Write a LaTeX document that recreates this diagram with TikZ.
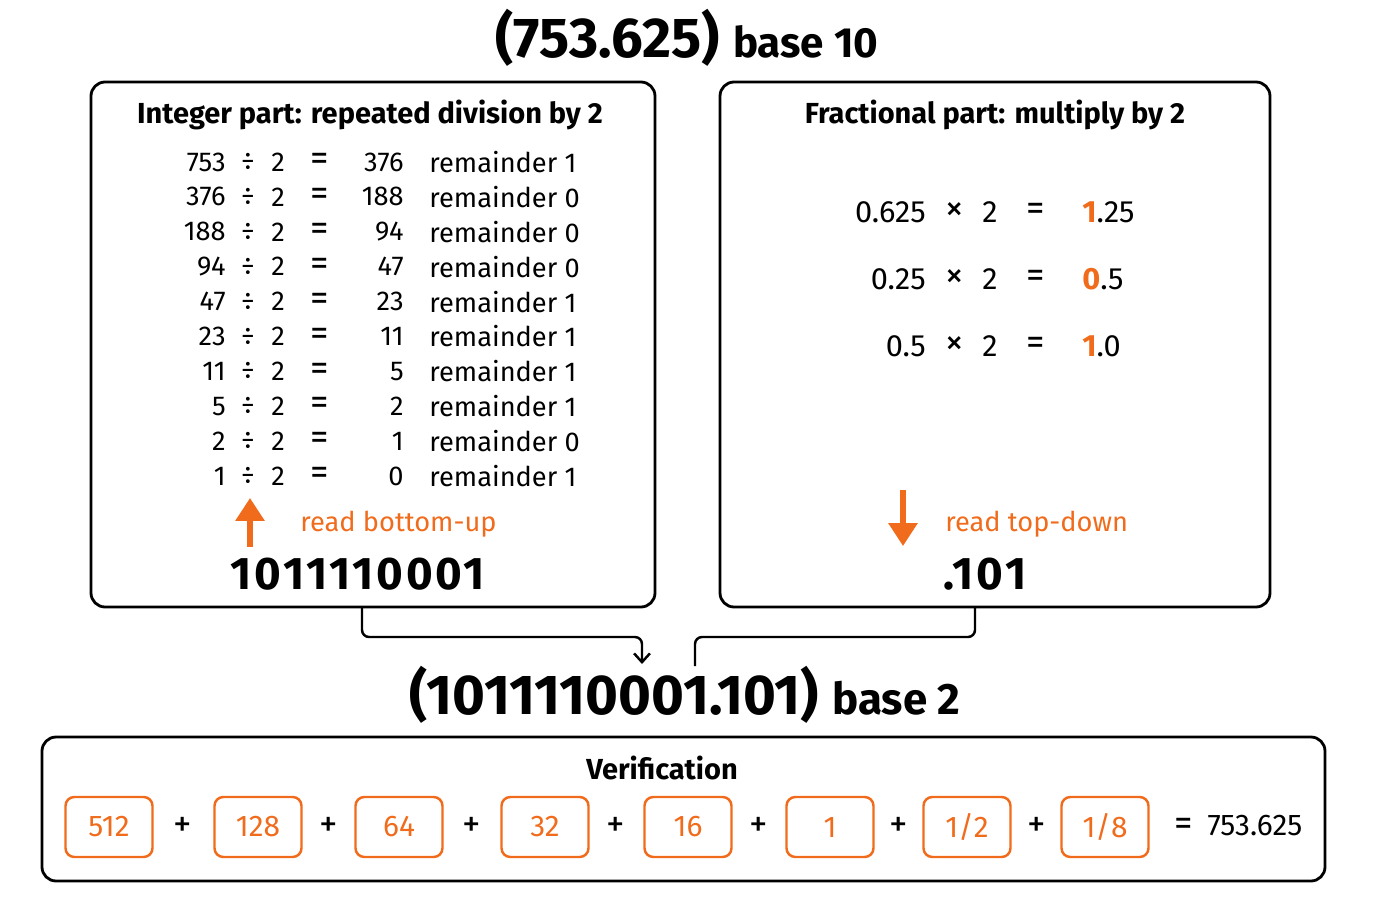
\documentclass[tikz,border=0pt]{standalone}
\usepackage{fontspec}
\setmainfont{Fira Sans}
\usetikzlibrary{arrows.meta, positioning}
\definecolor{accent}{RGB}{240,108,28}

\begin{document}
\begin{tikzpicture}[x=0.02cm,y=-0.02cm,
    panel/.style={draw, line width=1.6pt, rounded corners=8pt},
    term/.style={draw=accent, line width=1.4pt, rounded corners=5pt, minimum width=1.74cm, minimum height=1.2cm, text=accent, font=\fontsize{17}{20}\selectfont},
    row/.style={font=\fontsize{15.5}{18}\selectfont, inner sep=0pt},
    big/.style={font=\fontsize{17.5}{20}\selectfont, inner sep=0pt},
    sym/.style={font=\fontsize{21}{24}\selectfont, inner sep=0pt},
    head/.style={font=\bfseries\fontsize{16.5}{19}\selectfont},
    link/.style={line width=1.4pt, rounded corners=4pt}]
    \useasboundingbox (0,0) rectangle (1400,900);

    \node (title) at (687,38) {\bfseries\fontsize{32}{36}\selectfont (753.625) \fontsize{24}{28}\selectfont base 10};

    % the two panels
    \draw[panel] (91,82) rectangle (655,607);
    \draw[panel] (720,82) rectangle (1270,607);
    \coordinate (intbot) at (362,607);
    \coordinate (fracbot) at (975,607);
    \node[head] (inthead) at (370,115) {Integer part: repeated division by 2};
    \node[head] (frachead) at (995,115) {Fractional part: multiply by 2};

    % division table
    \foreach \n/\q/\r [count=\i from 0] in {753/376/1,376/188/0,188/94/0,94/47/0,47/23/1,23/11/1,11/5/1,5/2/1,2/1/0,1/0/1}{
        \node[row, anchor=east] at (226,162+34.9*\i) {\n};
        \node[row] at (248,162+34.9*\i) {÷};
        \node[row] at (278,162+34.9*\i) {2};
        \node[sym] at (320,162+34.9*\i) {=};
        \node[row, anchor=east] at (404,162+34.9*\i) {\q};
        \node[row, anchor=west] at (429,162+34.9*\i) {remainder \r};
    }
    \coordinate (uptail) at (250,547);
    \coordinate (uptip) at (250,498);
    \draw[accent, line width=3pt, -{Triangle[length=13pt,width=16pt]}] (uptail) -- (uptip);
    \node[row, text=accent, anchor=west] (bottomup) at (300,524) {read bottom-up};
    \node[font=\bfseries\fontsize{26}{30}\selectfont] (intres) at (358,574) {\addfontfeature{LetterSpace=6}1011110001};

    % multiplication table
    \foreach \f/\b/\rest [count=\i from 0] in {0.625/1/.25,0.25/0/.5,0.5/1/.0}{
        \node[big, anchor=east] at (926,212+67*\i) {\f};
        \node[sym] at (955,212+67*\i) {×};
        \node[big] at (990,212+67*\i) {2};
        \node[sym] at (1036,212+67*\i) {=};
        \node[big, anchor=west] at (1082,212+67*\i) {\textcolor{accent}{\bfseries\b}\rest};
    }
    \coordinate (downtail) at (903,490);
    \coordinate (downtip) at (903,546);
    \draw[accent, line width=3pt, -{Triangle[length=13pt,width=16pt]}] (downtail) -- (downtip);
    \node[row, text=accent, anchor=west] (topdown) at (945,524) {read top-down};
    \node[font=\bfseries\fontsize{26}{30}\selectfont] (fracres) at (985,574) {\addfontfeature{LetterSpace=6}.101};

    % joining the results
    \node (result) at (685,695) {\bfseries\fontsize{32}{36}\selectfont (1011110001.101) \fontsize{25}{28}\selectfont base 2};
    \coordinate (leftin) at (642,664);
    \coordinate (rightin) at (695,666);
    \draw[link, -{Straight Barb[length=5pt,width=9pt]}] (intbot) |- (0,637 -| leftin) -- (leftin);
    \draw[link] (fracbot) |- (0,637 -| rightin) -- (rightin);

    % verification
    \draw[panel] (42,737) rectangle (1325,881);
    \node[head] (verify) at (662,768) {Verification};
    \foreach \v/\x in {512/109,128/258,64/399,32/545,16/688,1/830,1\slash 2/967,1\slash 8/1105}
        \node[term] (t\x) at (\x,827) {\v};
    \foreach \x in {183,329,472,616,759,899,1037}
        \node[sym] (p\x) at (\x,827) {+};
    \node[font=\fontsize{17}{20}\selectfont, anchor=west] (total) at (1168,826) {{\fontsize{21}{24}\selectfont =}\hspace{0.5em}753.625};
\end{tikzpicture}
\end{document}
